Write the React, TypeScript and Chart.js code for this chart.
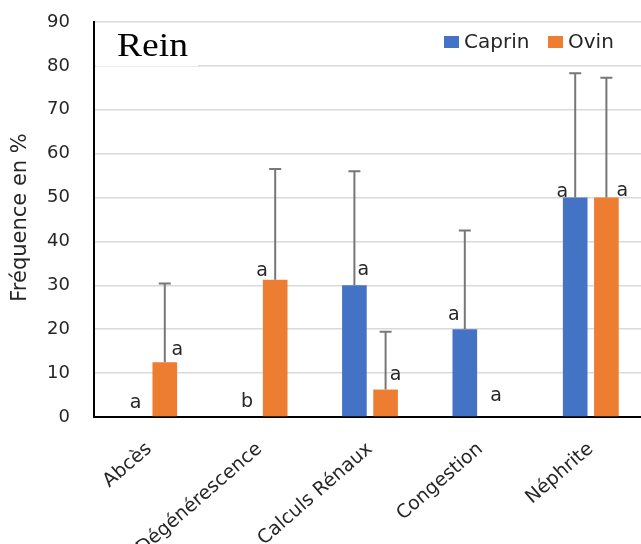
import React, { useEffect, useRef } from "react";
import { Chart, registerables } from "chart.js";
Chart.register(...registerables);

// ---- data ----
const categories = ["Abcès", "Dégénérescence", "Calculs Rénaux", "Congestion", "Néphrite"];
const caprinValues = [0, 0, 30, 20, 50];
const ovinValues = [12.5, 31.25, 6.25, 0, 50];
const caprinErrorTop: (number | null)[] = [null, null, 56, 42.5, 78.3];
const ovinErrorTop: (number | null)[] = [30.4, 56.5, 19.4, null, 77.3];
const caprinLetters = ["a", "b", "a", "a", "a"];
const ovinLetters = ["a", "a", "a", "a", "a"];
const yTickValues = [0, 10, 20, 30, 40, 50, 60, 70, 80, 90];
const seriesNames = ["Caprin", "Ovin"];
const chartTitle = "Rein";
const yAxisTitle = "Fréquence en %";

// ---- styles ----
const COLORS = ["#4472C4", "#ED7D31"];
const TEXT = "#262626";
const FONT = "'DejaVu Sans', sans-serif";
// letter label offsets (px) relative to bar top centre
const letterOffsets = [
  [[2, -14], [3, -15], [9, -15], [-11, -14], [-13, -5]],
  [[12.5, -12], [-13, -9], [10, -15], [0, -21], [16, -6]],
];

const annotPlugin = {
  id: "annot",
  beforeDatasetsDraw(chart: any) {
    const ctx = chart.ctx;
    ctx.save();
    ctx.fillStyle = "#fff";
    ctx.fillRect(96, 24, 102, 42);
    ctx.restore();
  },
  afterDatasetsDraw(chart: any) {
    const ctx = chart.ctx;
    const yScale = chart.scales.y;
    const errs = [caprinErrorTop, ovinErrorTop];
    const letters = [caprinLetters, ovinLetters];
    ctx.save();
    for (let d = 0; d < 2; d++) {
      const meta = chart.getDatasetMeta(d);
      meta.data.forEach((bar: any, j: number) => {
        const e = errs[d][j];
        if (e != null) {
          const yt = yScale.getPixelForValue(e);
          ctx.strokeStyle = "#777777";
          ctx.lineWidth = 2;
          ctx.beginPath();
          ctx.moveTo(bar.x, bar.y);
          ctx.lineTo(bar.x, yt);
          ctx.moveTo(bar.x - 6, yt);
          ctx.lineTo(bar.x + 6, yt);
          ctx.stroke();
        }
        const [dx, dy] = letterOffsets[d][j];
        ctx.fillStyle = TEXT;
        ctx.font = `19px ${FONT}`;
        ctx.textAlign = "center";
        ctx.textBaseline = "middle";
        ctx.fillText(letters[d][j], bar.x + dx, bar.y + dy);
      });
    }
    ctx.restore();
  },
  afterDraw(chart: any) {
    const ctx = chart.ctx;
    const area = chart.chartArea;
    // y axis title
    ctx.save();
    ctx.fillStyle = TEXT;
    ctx.font = `21px ${FONT}`;
    ctx.textAlign = "center";
    ctx.textBaseline = "middle";
    ctx.translate(21, (area.top + area.bottom) / 2 - 2);
    ctx.rotate(-Math.PI / 2);
    ctx.fillText(yAxisTitle, 0, 0);
    ctx.restore();
    // title
    ctx.save();
    ctx.fillStyle = "#000";
    ctx.font = `33px 'Liberation Serif', serif`;
    ctx.textAlign = "left";
    ctx.textBaseline = "alphabetic";
    ctx.translate(117, 56);
    ctx.scale(1.14, 1);
    ctx.fillText(chartTitle, 0, 0);
    ctx.restore();
    // legend
    ctx.save();
    ctx.font = `20px ${FONT}`;
    ctx.textBaseline = "middle";
    ctx.textAlign = "left";
    const xs = [444, 548];
    seriesNames.forEach((n, i) => {
      ctx.fillStyle = COLORS[i];
      ctx.fillRect(xs[i], 36, 15, 12);
      ctx.fillStyle = TEXT;
      ctx.fillText(n, xs[i] + 20, 43);
    });
    ctx.restore();
  },
};

export default function App() {
  const ref = useRef<HTMLCanvasElement>(null);
  useEffect(() => {
    if (!ref.current) return;
    const chart = new Chart(ref.current, {
      type: "bar",
      data: {
        labels: categories,
        datasets: [
          { label: seriesNames[0], data: caprinValues, backgroundColor: COLORS[0], barPercentage: 0.79, categoryPercentage: 0.565 },
          { label: seriesNames[1], data: ovinValues, backgroundColor: COLORS[1], barPercentage: 0.79, categoryPercentage: 0.565 },
        ],
      },
      options: {
        responsive: false,
        animation: false,
        devicePixelRatio: 1,
        layout: { padding: { top: 22, left: 0, right: 0, bottom: 0 } },
        plugins: { legend: { display: false }, tooltip: { enabled: false } },
        scales: {
          x: {
            grid: { display: false, drawTicks: false },
            border: { display: true, color: "#000", width: 2 },
            ticks: { minRotation: 41, maxRotation: 41, padding: 21, color: TEXT, font: { family: FONT, size: 19 } },
            afterFit: (s: any) => { s.height = 127; },
          },
          y: {
            min: 0,
            max: 90,
            afterBuildTicks: (s: any) => { s.ticks = yTickValues.map((v) => ({ value: v })); },
            ticks: { padding: 4, color: TEXT, font: { family: FONT, size: 18 } },
            grid: { color: "#d9d9d9", lineWidth: 1.5, drawTicks: true, tickLength: 20, tickColor: "rgba(0,0,0,0)" },
            border: { color: "#000", width: 2 },
            title: { display: false },
            afterFit: (s: any) => { s.width = 94; },
          },
        },
      } as any,
      plugins: [annotPlugin],
    });
    return () => chart.destroy();
  }, []);
  return (
    <div style={{ position: "fixed", left: 0, top: 0, width: 641, height: 544, overflow: "hidden", background: "#fff" }}>
      <canvas ref={ref} width={646} height={544} style={{ display: "block" }} />
    </div>
  );
}
